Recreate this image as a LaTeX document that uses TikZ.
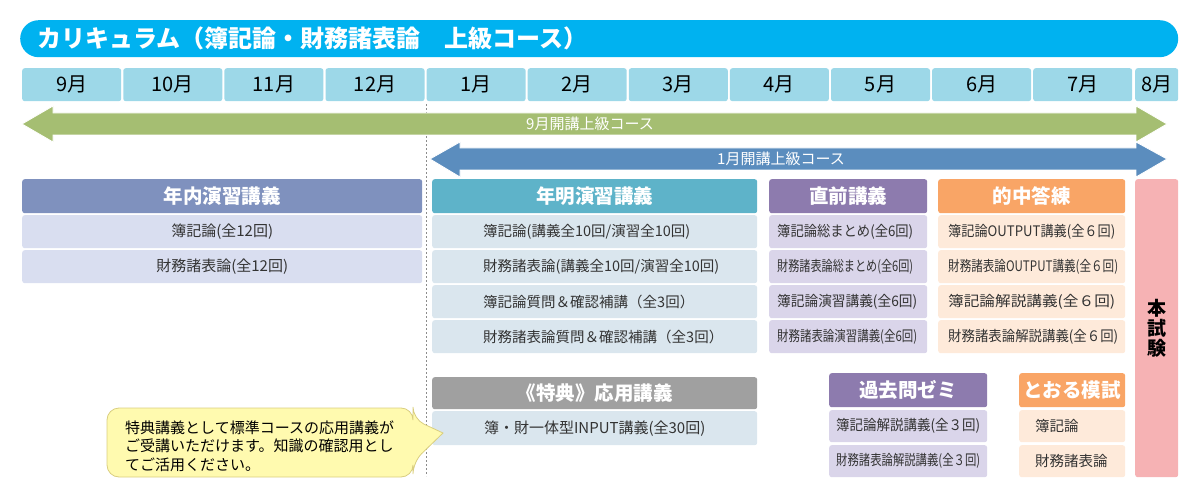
\documentclass[tikz,border=0pt]{standalone}
\usepackage{fontspec}
\usepackage{graphicx}
\setmainfont{Noto Sans CJK JP}
\usetikzlibrary{positioning}

\definecolor{titleblue}{RGB}{0,178,240}
\definecolor{monthblue}{RGB}{157,216,232}
\definecolor{arrowgreen}{RGB}{165,190,114}
\definecolor{arrowblue}{RGB}{91,141,190}
\definecolor{naihead}{RGB}{127,145,190}
\definecolor{nairow}{RGB}{217,222,240}
\definecolor{meihead}{RGB}{94,179,201}
\definecolor{meirow}{RGB}{218,230,238}
\definecolor{chokuhead}{RGB}{141,123,174}
\definecolor{chokurow}{RGB}{218,213,234}
\definecolor{tekihead}{RGB}{249,165,102}
\definecolor{tekirow}{RGB}{254,234,218}
\definecolor{honpink}{RGB}{246,178,180}
\definecolor{tokuhead}{RGB}{160,160,160}
\definecolor{notefill}{RGB}{255,250,175}
\definecolor{noteline}{RGB}{217,206,128}

\newcommand{\fs}[1]{\fontsize{#1}{#1}\selectfont}
% squeeze a label to a given width
\newcommand{\squeeze}[2]{\resizebox{#1}{\height}{#2}}

\tikzset{
	cell/.style={rectangle, rounded corners=2.5pt, inner sep=0pt, anchor=north west},
	month/.style={cell, fill=monthblue, minimum height=33pt, font=\fs{20}},
	head/.style={cell, text=white, minimum height=34pt, font=\bfseries\fs{19.5}},
	row/.style={cell, text=black!80, minimum height=33pt, font=\fs{15}},
	rowtext/.style={inner sep=0pt, text=black!80, font=\fs{14.5}},
	arrowtext/.style={text=white, font=\fs{15}},
}

\begin{document}
\begin{tikzpicture}[x=1pt,y=-1pt]
	\useasboundingbox (0,0) rectangle (1200,500);
		%title
			\node[cell, fill=titleblue, rounded corners=18.5pt, minimum width=1158pt, minimum height=37pt] (bar) at (20,20) {};
			\node[anchor=west, inner sep=0pt, text=white, font=\bfseries\fs{24}, right=17pt of bar.west] (title) {カリキュラム（簿記論・財務諸表論　上級コース）};
		%months
			\foreach \m [count=\i from 0] in {9,10,11,12,1,2,3,4,5,6,7}
				\node[month, minimum width=99pt] (m\m) at (22+\i*101.1,68) {\m 月};
			\node[month, minimum width=43pt] (m8) at (1135,68) {8月};
		%dashed line at january
			\draw[black!45, dash pattern=on 2pt off 2pt, line width=0.6pt] ([yshift=-3pt]m1.south west) -- ++(0,372);
		%arrows + labels
			\fill[arrowgreen, draw=white, line width=0.8pt] (22,124) -- (53,106) -- (53,113) -- (1136,113) -- (1136,106) -- (1167,124) -- (1136,142) -- (1136,135) -- (53,135) -- (53,142) -- cycle;
			\fill[arrowblue, draw=white, line width=0.8pt] (430,159) -- (460,142) -- (460,148) -- (1136,148) -- (1136,142) -- (1167,159) -- (1136,177) -- (1136,170) -- (460,170) -- (460,177) -- cycle;
			\node[arrowtext] (sep) at (590,124) {9月開講上級コース};
			\node[arrowtext] (jan) at (781,159) {1月開講上級コース};
		%nennai
			\node[head, fill=naihead, minimum width=400pt] (nai) at (22,179) {年内演習講義};
			\node[row, fill=nairow, minimum width=400pt] (nai1) at (22,215) {簿記論(全12回)};
			\node[row, fill=nairow, minimum width=400pt] (nai2) at (22,250) {財務諸表論(全12回)};
		%nenmei
			\node[head, fill=meihead, minimum width=325pt] (mei) at (432,179) {年明演習講義};
			\foreach \t [count=\i from 0] in {簿記論(講義全10回/演習全10回),財務諸表論(講義全10回/演習全10回),簿記論質問＆確認補講（全3回）,財務諸表論質問＆確認補講（全3回）}{
				\node[row, fill=meirow, minimum width=325pt] (mei\i) at (432,215+\i*35) {};
				\node[rowtext, right=51pt of mei\i.west] (mei\i t) {\t};
			}
		%chokuzen
			\node[head, fill=chokuhead, minimum width=158pt] (choku) at (769,179) {直前講義};
			\foreach \t/\w [count=\i from 0] in {簿記論総まとめ(全6回)/136pt,財務諸表論総まとめ(全6回)/136pt,簿記論演習講義(全6回)/140pt,財務諸表論演習講義(全6回)/140pt}{
				\node[row, fill=chokurow, minimum width=158pt] (choku\i) at (769,215+\i*35) {};
				\node[rowtext, right=8pt of choku\i.west] (choku\i t) {\squeeze{\w}{\t}};
			}
		%tekichu
			\node[head, fill=tekihead, minimum width=187pt] (teki) at (938,179) {的中答練};
			\foreach \t/\w [count=\i from 0] in {簿記論OUTPUT講義(全６回)/167pt,財務諸表論OUTPUT講義(全６回)/170pt,簿記論解説講義(全６回)/167pt,財務諸表論解説講義(全６回)/170pt}{
				\node[row, fill=tekirow, minimum width=187pt] (teki\i) at (938,215+\i*35) {};
				\node[rowtext, right=10pt of teki\i.west] (teki\i t) {\squeeze{\w}{\t}};
			}
		%honshiken
			\node[cell, fill=honpink, minimum width=43pt, minimum height=298pt] (hon) at (1135,179) {};
			\node[align=center, inner sep=0pt, font=\bfseries\fontsize{19}{20}\selectfont] (hont) at (hon.center) {本\\試\\験};
		%tokuten
			\node[head, fill=tokuhead, minimum width=325pt, minimum height=32pt] (toku) at (432,377) {《特典》応用講義};
			\node[row, fill=meirow, minimum width=325pt, minimum height=34pt] (toku1) at (432,411) {簿・財一体型INPUT講義(全30回)};
		%kakomon
			\node[head, fill=chokuhead, minimum width=158pt] (kako) at (829,373) {過去問ゼミ};
			\node[row, fill=chokurow, minimum width=158pt, minimum height=32pt] (kako1) at (829,410) {};
			\node[row, fill=chokurow, minimum width=158pt, minimum height=32pt] (kako2) at (829,445) {};
			\node[rowtext, right=7pt of kako1.west] (kako1t) {\squeeze{144pt}{簿記論解説講義(全３回)}};
			\node[rowtext, right=7pt of kako2.west] (kako2t) {\squeeze{144pt}{財務諸表論解説講義(全３回)}};
		%toru mock exam
			\node[head, fill=tekihead, minimum width=106pt] (toru) at (1019,373) {とおる模試};
			\node[row, fill=tekirow, minimum width=106pt, minimum height=32pt] (toru1) at (1019,410) {};
			\node[row, fill=tekirow, minimum width=106pt, minimum height=32pt] (toru2) at (1019,445) {};
			\node[rowtext, right=16pt of toru1.west] (toru1t) {簿記論};
			\node[rowtext, right=16pt of toru2.west] (toru2t) {財務諸表論};
		%callout
			\draw[fill=notefill, draw=noteline, line width=0.8pt, rounded corners=12pt] (107,408) -- (413,408) -- (413,419) [sharp corners] -- (443,433) [rounded corners=12pt] -- (413,462) -- (413,477) -- (107,477) -- cycle;
			\node[anchor=west, align=left, inner sep=0pt, font=\fontsize{15}{18.5}\selectfont] (note) at (125,446) {特典講義として標準コースの応用講義が\\ご受講いただけます。知識の確認用とし\\てご活用ください。};
	\end{tikzpicture}
\end{document}
